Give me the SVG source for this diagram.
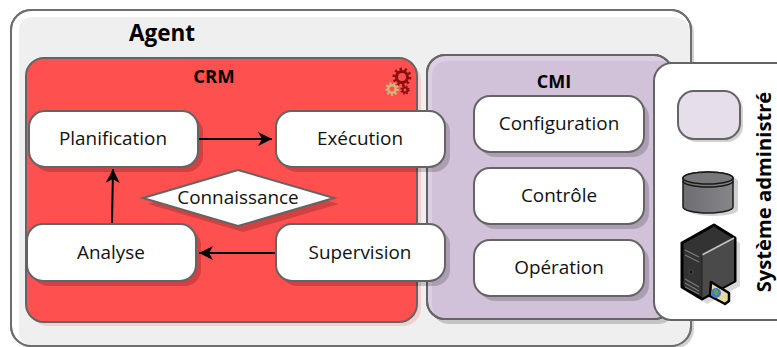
<svg xmlns="http://www.w3.org/2000/svg" width="777" height="347" viewBox="0 0 777 347">
<style>
text{font-family:"Open Sans","Noto Sans","Liberation Sans",sans-serif;fill:#111;text-anchor:middle}
.l{font-size:18.9px}
.b{font-weight:700;fill:#000}
.box{fill:#fff;stroke:#646464;stroke-width:2}
.sh{fill:#000;opacity:.18}
.c{fill:none;stroke:#000;stroke-width:2}
.cog{fill:none;stroke-linecap:butt}
</style>
<defs>
<marker id="a" markerUnits="userSpaceOnUse" markerWidth="16" markerHeight="16" refX="14" refY="8" orient="auto"><path d="M0 1L14 8L0 15L4 8Z" fill="#000"/></marker>
<linearGradient id="db" x1="0" x2="1" y1="0" y2="0"><stop offset="0" stop-color="#6d6d72"/><stop offset="1" stop-color="#85858a"/></linearGradient>
</defs>
<rect width="777" height="347" fill="#fff"/>
<g id="agent">
<rect x="14" y="13" width="680" height="336" rx="20" class="sh" opacity=".12"/>
<rect x="11" y="10" width="680" height="336" rx="20" fill="#fff" stroke="#6e6e6e" stroke-width="2"/>
<path d="M33 17H672Q690 17 690 35V325Q690 345 670 345H33Q19 345 19 331V31Q19 17 33 17Z" fill="#efefef"/>
<rect x="11" y="10" width="680" height="336" rx="20" fill="none" stroke="#6e6e6e" stroke-width="2"/>
<text x="162" y="41" font-size="22.5" class="b">Agent</text>
</g>
<g id="crm">
<rect x="30" y="62" width="391" height="264" rx="18" fill="#ff5050" opacity=".2"/>
<rect x="26" y="58" width="391" height="264" rx="18" fill="#ff5050" stroke="#646464" stroke-width="2"/>
<text x="214" y="83" font-size="18.5" class="b">CRM</text>
<g class="cog">
<circle cx="402" cy="77" r="5.5" stroke="#8c0f0f" stroke-width="3"/><circle cx="402" cy="77" r="7.5" stroke="#8c0f0f" stroke-width="4" stroke-dasharray="2.2 2.5"/>
<circle cx="392" cy="89" r="3.8" stroke="#d2b878" stroke-width="2.5"/><circle cx="392" cy="89" r="5.5" stroke="#d2b878" stroke-width="3" stroke-dasharray="1.8 2"/>
<circle cx="405" cy="90" r="2.4" stroke="#8c0f0f" stroke-width="2"/><circle cx="405" cy="90" r="3.6" stroke="#8c0f0f" stroke-width="2.2" stroke-dasharray="1.4 1.5"/>
</g>
</g>
<g id="cmi">
<rect x="431" y="60" width="245" height="264" rx="18" class="sh"/>
<rect x="427" y="55" width="245" height="264" rx="18" fill="#dccfe3" stroke="#646464" stroke-width="2"/>
<path d="M448 61H671V318H446Q432 318 432 304V77Q432 61 448 61Z" fill="#d1c1d9"/>
<rect x="427" y="55" width="245" height="264" rx="18" fill="none" stroke="#646464" stroke-width="2"/>
<text x="554" y="88" font-size="18" class="b">CMI</text>
</g>
<g id="connecteurs">
<path d="M198 139H272" class="c" marker-end="url(#a)"/>
<path d="M276 253H199" class="c" marker-end="url(#a)"/>
<path d="M112 224L113 169" class="c" marker-end="url(#a)"/>
</g>
<g id="planification"><rect x="34" y="116" width="169" height="56" rx="16" class="sh"/><rect x="29" y="111" width="169" height="56" rx="16" class="box"/><text x="113" y="145" class="l">Planification</text></g>
<g id="execution"><rect x="281" y="116" width="169" height="56" rx="16" class="sh"/><rect x="276" y="111" width="169" height="56" rx="16" class="box"/><text x="360" y="145" class="l">Exécution</text></g>
<g id="connaissance"><path d="M148 204L243 176L339 204L243 232Z" class="sh"/><path d="M143 198L238 170L334 198L238 226Z" class="box"/><text x="238" y="204" class="l">Connaissance</text></g>
<g id="analyse"><rect x="32" y="229" width="169" height="57" rx="16" class="sh"/><rect x="27" y="224" width="169" height="57" rx="16" class="box"/><text x="111" y="259" class="l">Analyse</text></g>
<g id="supervision"><rect x="281" y="229" width="169" height="57" rx="16" class="sh"/><rect x="276" y="224" width="169" height="57" rx="16" class="box"/><text x="360" y="259" class="l">Supervision</text></g>
<g id="configuration"><rect x="479" y="101" width="170" height="56" rx="16" class="sh"/><rect x="474" y="96" width="170" height="56" rx="16" class="box"/><text x="559" y="130" class="l">Configuration</text></g>
<g id="controle"><rect x="479" y="173" width="170" height="56" rx="16" class="sh"/><rect x="474" y="168" width="170" height="56" rx="16" class="box"/><text x="559" y="202" class="l">Contrôle</text></g>
<g id="operation"><rect x="479" y="245" width="170" height="56" rx="16" class="sh"/><rect x="474" y="240" width="170" height="56" rx="16" class="box"/><text x="559" y="274" class="l">Opération</text></g>
<g id="systeme">
<rect x="654" y="63" width="140" height="257" rx="18" class="box"/>
<rect x="681" y="94" width="62" height="48" rx="16" class="sh"/>
<rect x="678" y="91" width="62" height="48" rx="16" fill="#e6dfea" stroke="#646464" stroke-width="2"/>
<path d="M683 178a25 6 0 0 1 50 0V207a25 6 0 0 1 -50 0Z" transform="translate(5 3)" class="sh"/>
<path d="M683 178a25 6 0 0 1 50 0V207a25 6 0 0 1 -50 0Z" fill="url(#db)" stroke="#1a1a1a" stroke-width="1.5"/>
<ellipse cx="708" cy="178" rx="25" ry="6" fill="#77777c" stroke="#1a1a1a" stroke-width="1.5"/>
<path d="M683 181a25 6 0 0 0 50 0" fill="none" stroke="#1a1a1a" stroke-width="1.5"/>
<path d="M682 243L714 225L735 238V281L702 299L682 287Z" fill="#000" opacity=".15" transform="translate(5 5)"/>
<path d="M682 243L714 225L735 238V281L702 299L682 287Z" fill="#333" stroke="#000" stroke-width="3" stroke-linejoin="round"/>
<path d="M702 254L734 238V281L702 298Z" fill="#4a4a4a"/>
<path d="M702 255L734 238" stroke="#c4c4c4" stroke-width="1.5" fill="none"/>
<path d="M702 254V298" stroke="#222" stroke-width="1"/>
<path d="M685 250L699 257M685 255L699 262M685 279L699 287M685 283L699 291M685 287L699 294" stroke="#777" stroke-width="1.3"/>
<circle cx="691" cy="272" r="2" fill="#111" stroke="#777" stroke-width=".5"/>
<path d="M711 282L710 296L725 304L729 301V293Z" fill="#e8d9a0" stroke="#000" stroke-width="2.5" stroke-linejoin="round"/>
<circle cx="716" cy="293" r="5" fill="#4a78c8"/><path d="M713 291l4-2l2 4l-3 3z" fill="#5da24e"/>
<text transform="translate(771 192) rotate(-90)" font-size="20.2" class="b">Système administré</text>
</g>
</svg>
